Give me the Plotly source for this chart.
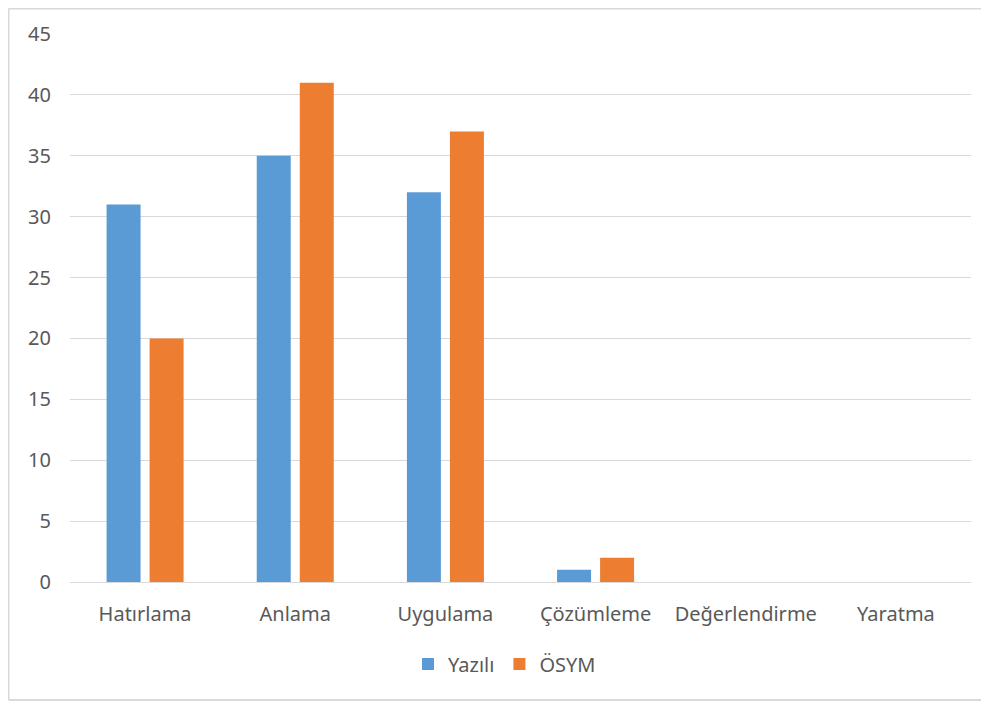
import plotly.graph_objects as go

categories = ["Hatırlama", "Anlama", "Uygulama", "Çözümleme", "Değerlendirme", "Yaratma"]
yazili = [31, 35, 32, 1, 0, 0]
osym = [20, 41, 37, 2, 0, 0]
y_ticks = [0, 5, 10, 15, 20, 25, 30, 35, 40, 45]

FONT = "Noto Sans"
GRAY = "#595959"
GRID = "#D9D9D9"

# page body has an 8px margin, so the figure is 8px smaller than the window
W, H = 981, 694
L, R, T, B = 62, 18, 26, 120
PW = W - L - R
PH = H - T - B


def px(x):
    return (x - L) / PW


def py(y):
    return (PH + T - y) / PH


fig = go.Figure()
fig.add_trace(go.Bar(x=categories, y=yazili, name="Yazılı",
                     marker=dict(color="#5B9BD5", line=dict(width=0))))
fig.add_trace(go.Bar(x=categories, y=osym, name="ÖSYM",
                     marker=dict(color="#ED7D31", line=dict(width=0))))

border = dict(color=GRID, width=2)
fig.update_layout(
    width=W, height=H,
    margin=dict(l=L, r=R, t=T, b=B),
    paper_bgcolor="white", plot_bgcolor="white",
    barmode="group", bargap=0.427, bargroupgap=0.21,
    font=dict(family=FONT, size=20, color=GRAY),
    showlegend=True,
    legend=dict(orientation="h", x=px(400), xanchor="left",
                y=py(656), yanchor="middle",
                font=dict(family=FONT, size=20, color=GRAY), itemwidth=30,
                traceorder="normal"),
    xaxis=dict(showgrid=False, showline=True, linecolor=GRID, linewidth=1,
               ticks="", ticklabelstandoff=14, tickfont=dict(size=20, color=GRAY)),
    yaxis=dict(range=[0, 45], tickvals=y_ticks, showgrid=True, gridcolor=GRID,
               gridwidth=1, zeroline=False, showline=False, ticks="",
               ticklabelstandoff=18, tickfont=dict(size=20, color=GRAY)),
    shapes=[
        dict(type="line", xref="paper", yref="paper",
             x0=px(0.5), x1=px(0.5), y0=py(692), y1=py(0.5), line=border, layer="below"),
        dict(type="line", xref="paper", yref="paper",
             x0=px(0.5), x1=px(W + 5), y0=py(0.5), y1=py(0.5), line=border, layer="below"),
        dict(type="line", xref="paper", yref="paper",
             x0=px(0.5), x1=px(W + 5), y0=py(692), y1=py(692), line=border, layer="below"),
    ],
)

fig.write_html("out.html")
